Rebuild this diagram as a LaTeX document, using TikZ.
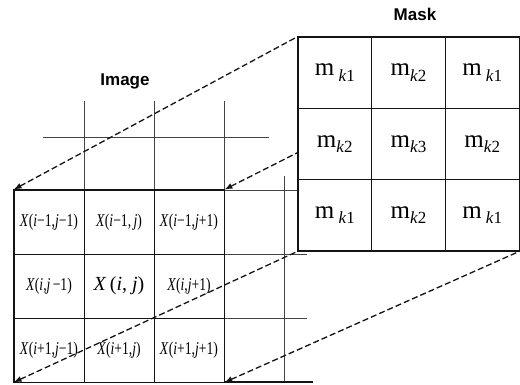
\documentclass[tikz,border=0pt]{standalone}
\usepackage{fontspec}
\usepackage{graphicx}
\setmainfont{Liberation Serif}
\setsansfont{Liberation Sans}
\usetikzlibrary{arrows.meta,positioning,calc}
\definecolor{ink}{RGB}{20,20,20}
\newcommand{\pixval}[1]{\scalebox{0.76}[1]{#1}}
\newcommand{\maskval}[2]{m#1\raisebox{-0.45ex}{\fontsize{17}{17}\selectfont\textit{k}#2}}

\begin{document}
\begin{tikzpicture}[x=1pt,y=-1pt,>=Latex,font=\fontsize{18}{18}\selectfont]
\tikzset{cell/.style={draw=ink,line width=0.8pt,minimum width=70pt,minimum height=64pt,inner sep=0pt,anchor=center},
  mcell/.style={cell,minimum width=73.7pt,minimum height=71.3pt,font=\fontsize{25}{25}\selectfont},
  thin/.style={draw=ink!80,line width=0.8pt},thickl/.style={draw=ink,line width=1.8pt},
  arr/.style={{Latex[length=8pt,width=6pt]}-,draw=ink,line width=1.3pt,dash pattern=on 6pt off 3pt}}
\useasboundingbox (0,0) rectangle (520,384);
% surrounding image grid
\draw[thin] (43,137) -- (269,137);
\foreach \gx in {84,154,224} \draw[thin] (\gx,101) -- (\gx,190);
\draw[thin] (284,176) -- (284,382);
\foreach \gy in {254,318} \draw[thin] (224,\gy) -- (307,\gy);
\draw[thin] (224,190) -- (298,190);
\draw[thickl] (224,382) -- (313,382);
% image window
\node[cell] (x11) at (49,222) {\pixval{\textit{X}(\textit{i}−1,\textit{j}−1)}};
\node[cell] (x12) at (119,222) {\pixval{\textit{X}(\textit{i}−1,\,\textit{j})}};
\node[cell] (x13) at (189,222) {\pixval{\textit{X}(\textit{i}−1,\textit{j}+1)}};
\node[cell] (x21) at (49,286) {\pixval{\textit{X}(\textit{i},\textit{j}\,−1)}};
\node[cell,font=\fontsize{20}{20}\selectfont] (x22) at (119,286) {\textit{X}\,(\textit{i}, \textit{j})};
\node[cell] (x23) at (189,286) {\pixval{\textit{X}(\textit{i},\textit{j}+1)}};
\node[cell] (x31) at (49,350) {\pixval{\textit{X}(\textit{i}+1,\textit{j}−1)}};
\node[cell] (x32) at (119,350) {\pixval{\textit{X}(\textit{i}+1,\textit{j})}};
\node[cell] (x33) at (189,350) {\pixval{\textit{X}(\textit{i}+1,\textit{j}+1)}};
\draw[thickl] (x11.north west) rectangle (x33.south east);
\node[font=\sffamily\bfseries\fontsize{17}{17}\selectfont] (imgtitle) at (125,81) {Image};
% mask
\node[mcell] (m11) at (334.85,72.65) {\maskval{\,}{1}};
\node[mcell] (m12) at (408.55,72.65) {\maskval{}{2}};
\node[mcell] (m13) at (482.25,72.65) {\maskval{\,}{1}};
\node[mcell] (m21) at (334.85,143.95) {\maskval{}{2}};
\node[mcell] (m22) at (408.55,143.95) {\maskval{}{3}};
\node[mcell] (m23) at (482.25,143.95) {\maskval{}{2}};
\node[mcell] (m31) at (334.85,215.25) {\maskval{\,}{1}};
\node[mcell] (m32) at (408.55,215.25) {\maskval{}{2}};
\node[mcell] (m33) at (482.25,215.25) {\maskval{\,}{1}};
\draw[thickl] (m11.north west) rectangle (m33.south east);
\node[font=\sffamily\bfseries\fontsize{17}{17}\selectfont] (masktitle) at (415,14) {Mask};
% projection arrows
\coordinate (mleft) at ($(m21.south west)!0.38!(m21.north west)$);
\draw[arr] (x11.north west) -- (m11.north west);
\draw[arr] (x13.north east) -- (mleft);
\draw[arr] (x31.south west) -- (m31.south west);
\draw[arr] (x33.south east) -- (m33.south east);
\end{tikzpicture}
\end{document}
